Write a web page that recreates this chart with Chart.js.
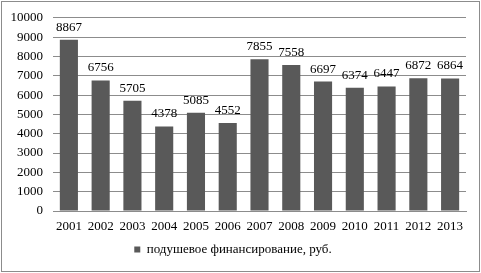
<!DOCTYPE html>
<html>
<head>
<meta charset="utf-8">
<script src="https://cdn.jsdelivr.net/npm/chart.js@4/dist/chart.umd.min.js"></script>
<style>
  html, body { margin: 0; padding: 0; background: #fff; }
  #wrap { width: 481px; height: 273px; position: relative; }
</style>
</head>
<body>
<div id="wrap"><canvas id="chart_funding"></canvas></div>
<script>
var years = ['2001', '2002', '2003', '2004', '2005', '2006', '2007', '2008', '2009', '2010', '2011', '2012', '2013'];
var perCapitaFunding = [8867, 6756, 5705, 4378, 5085, 4552, 7855, 7558, 6697, 6374, 6447, 6872, 6864];
var seriesLabel = 'подушевое финансирование, руб.';
var yMax = 10000;
var yStep = 1000;

var serif = "'Liberation Serif', 'Times New Roman', serif";

var chart_funding = new Chart(document.getElementById('chart_funding'), {
    type: 'bar',
    data: {
        labels: years,
        datasets: [
            {
                label: seriesLabel,
                data: perCapitaFunding,
                backgroundColor: '#595959',
                borderWidth: 0,
                barPercentage: 0.57,
                categoryPercentage: 1
            }
        ]
    },
    options: {
        animation: false,
        responsive: true,
        maintainAspectRatio: false,
        layout: {
            padding: { left: 0, right: 15, top: 15, bottom: 7 }
        },
        plugins: {
            tooltip: { enabled: false },
            legend: {
                display: true,
                position: 'bottom',
                labels: {
                    color: '#000',
                    font: { family: serif, size: 13 },
                    boxWidth: 6,
                    boxHeight: 6,
                    padding: 8
                }
            }
        },
        scales: {
            x: {
                grid: { display: false, drawTicks: false },
                border: { display: true, color: '#8c8c8c', width: 1 },
                ticks: {
                    color: '#000',
                    font: { family: serif, size: 13 },
                    padding: 8,
                    maxRotation: 0,
                    autoSkip: false
                },
                afterFit: function(scale) { scale.height = 24; }
            },
            y: {
                min: 0,
                max: yMax,
                grid: { color: '#8c8c8c', lineWidth: 1, drawTicks: false },
                border: { display: false },
                ticks: {
                    stepSize: yStep,
                    color: '#000',
                    font: { family: serif, size: 13 },
                    padding: 10,
                    callback: function(value) { return String(value); }
                },
                afterFit: function(scale) { scale.width = 53; }
            }
        }
    },
    plugins: [{
        id: 'frameAndLabels',
        beforeDraw: (chart) => {
            const ctx = chart.ctx;
            ctx.save();
            ctx.fillStyle = 'white';
            ctx.fillRect(0, 0, chart.width, chart.height);
            ctx.restore();
        },
        afterDatasetsDraw: (chart) => {
            const ctx = chart.ctx;
            const meta = chart.getDatasetMeta(0);
            ctx.save();
            ctx.font = '13px ' + serif;
            ctx.fillStyle = '#000';
            ctx.textAlign = 'center';
            ctx.textBaseline = 'alphabetic';
            meta.data.forEach((bar, i) => {
                ctx.fillText(String(chart.data.datasets[0].data[i]), bar.x, bar.y - 9);
            });
            ctx.restore();
        },
        afterDraw: (chart) => {
            const ctx = chart.ctx;
            ctx.save();
            ctx.strokeStyle = '#8c8c8c';
            ctx.lineWidth = 1;
            ctx.strokeRect(1.5, 1.5, chart.width - 3, chart.height - 3);
            ctx.restore();
        }
    }]
});
</script>
</body>
</html>
